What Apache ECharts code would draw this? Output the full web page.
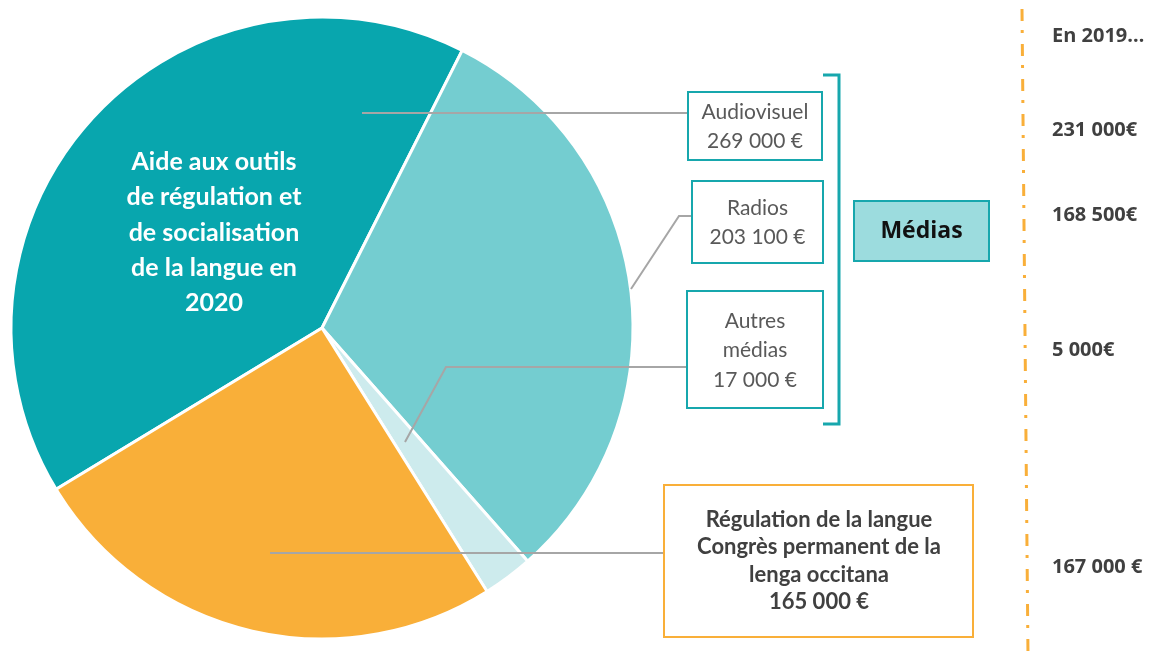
<!DOCTYPE html>
<html>
<head>
<meta charset="utf-8">
<script src="https://cdn.jsdelivr.net/npm/echarts@6/dist/echarts.min.js"></script>
<style>
html,body{margin:0;padding:0;background:#fff;}
#chart{width:1153px;height:668px;}
</style>
</head>
<body>
<div id="chart"></div>
<script>
// ---- data ----
const categories = ['Audiovisuel', 'Radios', 'Autres\nmédias', 'Régulation de la langue\nCongrès permanent de la\nlenga occitana'];
const values2020 = [269000, 203100, 17000, 165000];
const values2019 = [231000, 168500, 5000, 167000];
const euroSuffix2019 = ['€', '€', '€', ' €'];
const header2019 = 'En 2019…';
const centerTitle = 'Aide aux outils\nde régulation et\nde socialisation\nde la langue en\n2020';
const groupLabel = 'Médias';

// ---- styles ----
const sliceColors = ['#08A6AE', '#74CDD0', '#CDEBED', '#F9AF39'];
const teal = '#17A7AD';
const orange = '#F9AF39';
const leader = '#A6A6A6';

const fmt = v => String(v).replace(/\B(?=(\d{3})+(?!\d))/g, ' ');

const chart = echarts.init(document.getElementById('chart'), null, {renderer: 'canvas'});

const g = [];
// leader lines
const leaderPts = [
  [[362, 113], [688, 113]],
  [[631, 289], [679, 216], [692, 216]],
  [[405, 442], [446, 367], [687, 367]],
  [[270, 553], [664, 553]]
];
leaderPts.forEach(p => g.push({type: 'polyline', z: 50, shape: {points: p}, style: {stroke: leader, lineWidth: 2, fill: null}}));

// boxes for média items
const boxes = [
  {x: 688, y: 92, w: 134, h: 68, first: 112},
  {x: 692, y: 181, w: 131, h: 82, first: 208},
  {x: 687, y: 291, w: 136, h: 117, first: 321}
];
boxes.forEach((b, i) => {
  g.push({type: 'rect', z: 60, shape: {x: b.x, y: b.y, width: b.w, height: b.h}, style: {fill: '#fff', stroke: teal, lineWidth: 2}});
  const txt = categories[i] + '\n' + fmt(values2020[i]) + ' €';
  g.push({type: 'text', z: 61, style: {text: txt, x: b.x + b.w / 2, y: b.first - 14.75, textAlign: 'center', textVerticalAlign: 'top',
    font: '21px Lato', lineHeight: 29.5, fill: '#595959'}});
});

// régulation box
g.push({type: 'rect', z: 60, shape: {x: 664, y: 485, width: 309, height: 152}, style: {fill: '#fff', stroke: orange, lineWidth: 2}});
g.push({type: 'text', z: 61, style: {text: categories[3] + '\n' + fmt(values2020[3]) + ' €', x: 819, y: 520 - 13.65, textAlign: 'center', textVerticalAlign: 'top',
  font: 'bold 22px Lato', lineHeight: 27.3, fill: '#404040'}});

// bracket
g.push({type: 'polyline', z: 60, shape: {points: [[823, 75], [839, 75], [839, 424], [823, 424]]}, style: {stroke: teal, lineWidth: 3, fill: null}});
// médias box
g.push({type: 'rect', z: 60, shape: {x: 854, y: 201, width: 135, height: 60}, style: {fill: '#9CDCDE', stroke: teal, lineWidth: 2}});
g.push({type: 'text', z: 61, style: {text: groupLabel, x: 921.5, y: 231, textAlign: 'center', textVerticalAlign: 'middle', font: 'bold 23px "Open Sans"', fill: '#111'}});

// center title
g.push({type: 'text', z: 61, style: {text: centerTitle, x: 214, y: 162 - 17.65, textAlign: 'center', textVerticalAlign: 'top', font: 'bold 25px Lato', lineHeight: 35.3, fill: '#fff'}});

// right column
g.push({type: 'line', z: 40, shape: {x1: 1022, y1: 9, x2: 1028, y2: 656}, style: {stroke: orange, lineWidth: 3, lineDash: [12, 9, 3, 11]}});
const rightY = [130, 215, 350, 567];
const rightFont = 'bold 20px "Open Sans"';
g.push({type: 'text', z: 61, style: {text: header2019, x: 1052, y: 36, textAlign: 'left', textVerticalAlign: 'middle', font: rightFont, fill: '#404040'}});
values2019.forEach((v, i) => {
  g.push({type: 'text', z: 61, style: {text: fmt(v) + euroSuffix2019[i], x: 1052, y: rightY[i], textAlign: 'left', textVerticalAlign: 'middle', font: rightFont, fill: '#404040'}});
});

chart.setOption({
  animation: false,
  backgroundColor: '#fff',
  series: [{
    type: 'pie',
    center: [322, 328],
    radius: [0, 311],
    startAngle: 211.25,
    clockwise: true,
    label: {show: false},
    labelLine: {show: false},
    emphasis: {disabled: true},
    itemStyle: {borderColor: '#fff', borderWidth: 3},
    data: values2020.map((v, i) => ({value: v, name: categories[i].replace(/\n/g, ' '), itemStyle: {color: sliceColors[i]}}))
  }],
  graphic: {elements: g}
});
</script>
</body>
</html>
